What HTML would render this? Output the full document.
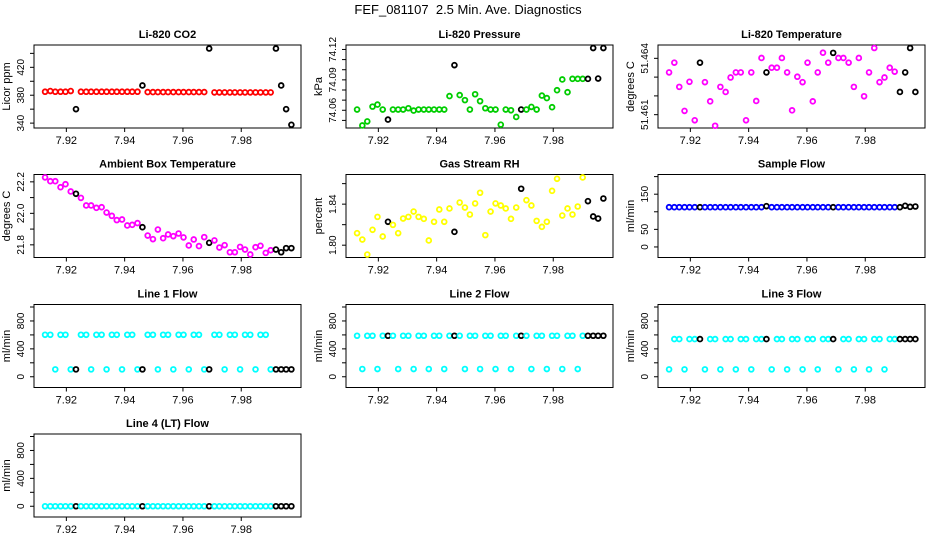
<!DOCTYPE html>
<html><head><meta charset="utf-8"><title>FEF_081107 Diagnostics</title>
<style>
html,body{margin:0;padding:0;background:#fff;}
svg{display:block;font-family:"Liberation Sans",Arial,sans-serif;}
</style></head>
<body>
<svg id="chart" width="936" height="540" viewBox="0 0 936 540" xmlns="http://www.w3.org/2000/svg">
<rect width="936" height="540" fill="#fff"/>
<text x="468" y="14" text-anchor="middle" font-size="13" xml:space="preserve">FEF_081107  2.5 Min. Ave. Diagnostics</text>
</svg>
<script>
const times = [7.9127,7.9145,7.9162,7.9180,7.9197,7.9215,7.9233,7.9250,7.9268,7.9285,7.9303,7.9321,7.9338,7.9356,7.9373,7.9391,7.9409,7.9426,7.9444,7.9461,7.9479,7.9497,7.9514,7.9532,7.9549,7.9567,7.9585,7.9602,7.9620,7.9637,7.9655,7.9673,7.9690,7.9708,7.9725,7.9743,7.9761,7.9778,7.9796,7.9813,7.9831,7.9849,7.9866,7.9884,7.9901,7.9919,7.9937,7.9954,7.9972];
const calIndices = [6,19,32,45,46,47,48];
const xTicks = [7.92,7.94,7.96,7.98];
const xTickLabels = ["7.92","7.94","7.96","7.98"];

const co2Values = [385,386,385,385,385,386,360,385,385,385,385,385,385,385,385,385,385,385,385,394,384.5,384.5,384.5,384.5,384.5,384.5,384.5,384.5,384.5,384.5,384.5,384.5,447,384,384,384,384,384,384,384,384,384,384,384,384,447,394,360,337.6];
const pressureValues = [74.0607,74.045,74.049,74.0636,74.0656,74.0607,74.0508,74.0607,74.0607,74.0607,74.062,74.0597,74.0607,74.0607,74.0607,74.0607,74.0607,74.0607,74.074,74.1045,74.075,74.070,74.0607,74.0758,74.069,74.062,74.0607,74.0607,74.0458,74.0607,74.060,74.0534,74.0607,74.0607,74.0633,74.0607,74.0745,74.072,74.063,74.0798,74.0904,74.0778,74.091,74.091,74.091,74.091,74.1214,74.0913,74.1214];
const tempValues = [51.46325,51.46377,51.46248,51.46120,51.46275,51.46070,51.46377,51.46273,51.46171,51.46041,51.46248,51.46221,51.46298,51.46325,51.46325,51.46070,51.46325,51.46173,51.46402,51.46325,51.46350,51.46350,51.46402,51.46325,51.46123,51.46302,51.46273,51.46377,51.46171,51.46325,51.46430,51.46377,51.46429,51.46402,51.46402,51.46377,51.46248,51.46402,51.46198,51.46325,51.46455,51.46273,51.46298,51.46350,51.46329,51.46221,51.46325,51.46455,51.46221];
const ambientValues = [22.228,22.204,22.204,22.166,22.185,22.139,22.124,22.098,22.050,22.050,22.035,22.039,22.005,21.984,21.957,21.961,21.923,21.927,21.938,21.912,21.859,21.836,21.897,21.842,21.866,21.855,21.872,21.847,21.796,21.834,21.792,21.849,21.813,21.828,21.783,21.798,21.753,21.753,21.787,21.770,21.739,21.785,21.794,21.749,21.766,21.770,21.753,21.779,21.779];
const rhValues = [1.8117,1.8055,1.7909,1.8150,1.8276,1.8085,1.8228,1.8198,1.8117,1.8260,1.8276,1.8328,1.8276,1.8257,1.8046,1.8228,1.8348,1.8228,1.8358,1.8130,1.8416,1.8367,1.8299,1.8407,1.8511,1.8098,1.8328,1.8407,1.8387,1.8358,1.8257,1.8367,1.8550,1.8439,1.8387,1.8237,1.8179,1.8228,1.8530,1.8647,1.8289,1.8358,1.8299,1.8377,1.8660,1.8429,1.8280,1.8260,1.8455];
const sampleFlowValues = [113,113,113,113,113,113,113,113,113,113,113,113,113,113,113,113,113,113,113,116,113,113,113,113,113,113,113,113,113,113,113,113,113,113,113,113,113,113,113,113,113,113,113,113,113,113,117,114,115];
const line1Values = [602,602,106,602,602,106,106,602,602,106,602,602,106,602,602,106,602,602,106,106,602,602,106,602,602,106,602,602,106,602,602,106,106,602,602,106,602,602,106,602,602,106,602,602,106,106,106,106,106];
const line2Values = [588,111,588,588,111,588,588,588,111,588,588,111,588,588,111,588,588,111,588,588,588,111,588,588,111,588,588,111,588,588,111,588,588,588,111,588,588,111,588,588,111,588,588,111,588,588,588,588,588];
const line3Values = [106,540,540,106,540,540,540,106,540,540,106,540,540,106,540,540,106,540,540,540,106,540,540,106,540,540,106,540,540,106,540,540,540,106,540,540,106,540,540,106,540,540,106,540,540,540,540,540,540];
const line4Values = [0,0,0,0,0,0,0,0,0,0,0,0,0,0,0,0,0,0,0,0,0,0,0,0,0,0,0,0,0,0,0,0,0,0,0,0,0,0,0,0,0,0,0,0,0,0,0,0,0];

const flowTicks = [0,200,400,600,800,1000];
const flowLabels = ["0","","400","","800",""];

const panels = [
 {name:"co2",title:"Li-820 CO2",ylab:"Licor ppm",vals:co2Values,color:"#ff0000",dom:[333,452],ticks:[340,360,380,400,420,440],labels:["340","","380","","420",""],col:0,row:0},
 {name:"pressure",title:"Li-820 Pressure",ylab:"kPa",vals:pressureValues,color:"#00cd00",dom:[74.0425,74.1244],ticks:[74.05,74.06,74.07,74.08,74.09,74.10,74.11,74.12],labels:["","74.06","","","74.09","","","74.12"],col:1,row:0},
 {name:"temperature",title:"Li-820 Temperature",ylab:"degrees C",vals:tempValues,color:"#ff00ff",dom:[51.46029,51.46471],ticks:[51.461,51.462,51.463,51.464],labels:["51.461","","","51.464"],col:2,row:0},
 {name:"ambient",title:"Ambient Box Temperature",ylab:"degrees C",vals:ambientValues,color:"#ff00ff",dom:[21.7196,22.2466],ticks:[21.8,21.9,22.0,22.1,22.2],labels:["21.8","","22.0","","22.2"],col:0,row:1},
 {name:"rh",title:"Gas Stream RH",ylab:"percent",vals:rhValues,color:"#ffff00",dom:[1.788,1.8689],ticks:[1.80,1.82,1.84,1.86],labels:["1.80","","1.84",""],col:1,row:1},
 {name:"sample-flow",title:"Sample Flow",ylab:"ml/min",vals:sampleFlowValues,color:"#0000ff",dom:[-30,206],ticks:[0,50,100,150,200],labels:["0","50","","150",""],col:2,row:1},
 {name:"line1-flow",title:"Line 1 Flow",ylab:"ml/min",vals:line1Values,color:"#00ffff",dom:[-154,1036],ticks:flowTicks,labels:flowLabels,col:0,row:2},
 {name:"line2-flow",title:"Line 2 Flow",ylab:"ml/min",vals:line2Values,color:"#00ffff",dom:[-154,1036],ticks:flowTicks,labels:flowLabels,col:1,row:2},
 {name:"line3-flow",title:"Line 3 Flow",ylab:"ml/min",vals:line3Values,color:"#00ffff",dom:[-154,1036],ticks:flowTicks,labels:flowLabels,col:2,row:2},
 {name:"line4-flow",title:"Line 4 (LT) Flow",ylab:"ml/min",vals:line4Values,color:"#00ffff",dom:[-154,1036],ticks:flowTicks,labels:flowLabels,col:0,row:3}
];

const NS="http://www.w3.org/2000/svg";
const svg=document.getElementById('chart');
const rowTops=[45,174.5,304.5,434];
const W=267,H=83,xDom=[7.9089,8.0005];
function mk(tag,attrs,parent){const e=document.createElementNS(NS,tag);for(const k in attrs)e.setAttribute(k,attrs[k]);parent.appendChild(e);return e;}

panels.forEach(p=>{
  const L=34+312*p.col, T=rowTops[p.row];
  const xs=v=>L+(v-xDom[0])/(xDom[1]-xDom[0])*W;
  const ys=v=>T+H-(v-p.dom[0])/(p.dom[1]-p.dom[0])*H;
  const g=mk('g',{},svg);
  
  
  const t=mk('text',{x:L+W/2,y:T-7,'text-anchor':'middle','font-size':'11','font-weight':'bold'},g);
  t.textContent=p.title;
  
  
  const box=mk('rect',{x:L,y:T,width:W,height:H,fill:'none',stroke:'#000','stroke-width':1},g);
  
  
  const xa=mk('g',{},g);
  
  
  xTicks.forEach((v,i)=>{
    const x=xs(v);
    mk('line',{x1:x,x2:x,y1:T+H,y2:T+H+4,stroke:'#000'},xa);
    const tl=mk('text',{x:x,y:T+H+16,'text-anchor':'middle','font-size':'11'},xa);
    tl.textContent=xTickLabels[i];
    
    
  });
  const ya=mk('g',{},g);
  
  
  p.ticks.forEach((v,i)=>{
    const y=ys(v);
    mk('line',{x1:L-4,x2:L,y1:y,y2:y,stroke:'#000'},ya);
    if(p.labels[i]){
      const tl=mk('text',{x:L-10,y:y,'text-anchor':'middle','font-size':'10',transform:`rotate(-90 ${L-10} ${y})`},ya);
      tl.textContent=p.labels[i];
      
      
    }
  });
  const yt=mk('text',{x:L-24,y:T+H/2,'text-anchor':'middle','font-size':'11',transform:`rotate(-90 ${L-24} ${T+H/2})`},g);
  yt.textContent=p.ylab;
  
  
  const pts=mk('g',{fill:'none','stroke-width':1.8},g);
  
  
  p.vals.forEach((v,i)=>{
    const cal=calIndices.includes(i);
    const c=mk('circle',{cx:xs(times[i]),cy:ys(v),r:2.4,stroke:cal?'#000':p.color},pts);
    
    
  });
});
</script>
</body></html>
